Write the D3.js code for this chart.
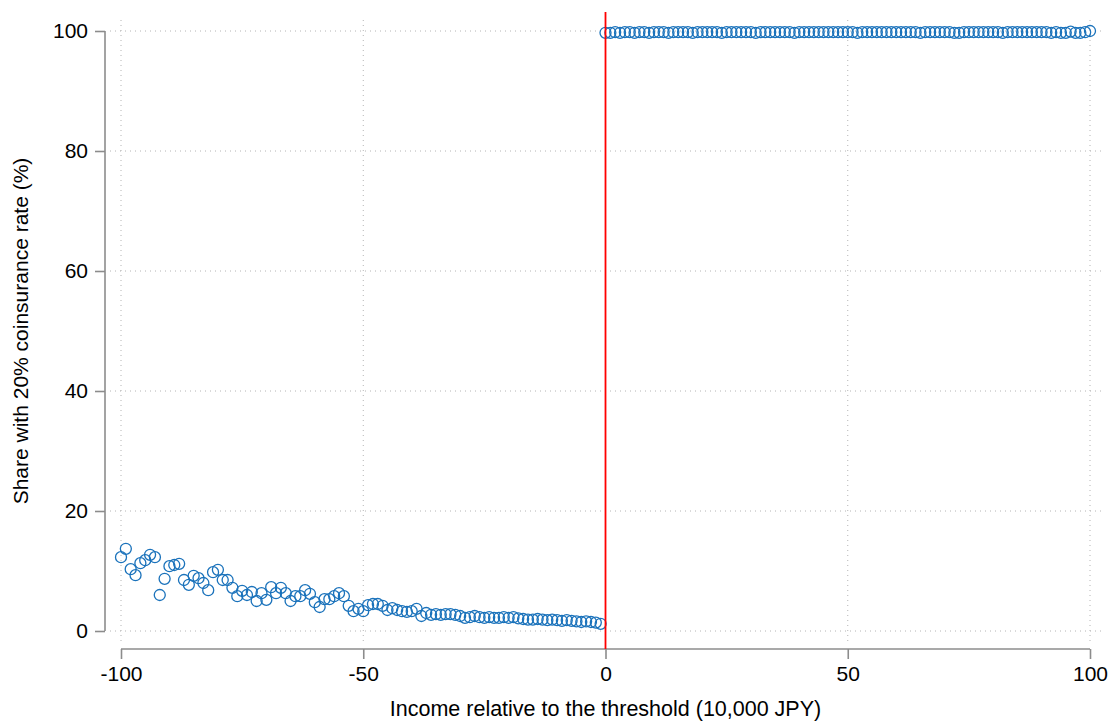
<!DOCTYPE html>
<html>
<head>
<meta charset="utf-8">
<script src="https://cdn.jsdelivr.net/npm/d3@7"></script>
<style>
  html, body { margin: 0; padding: 0; background: #fff; }
  svg { display: block; font-family: "Liberation Sans", Arial, Helvetica, sans-serif; }
</style>
</head>
<body>
<svg id="chart" width="1114" height="725"></svg>
<script>
// Bin positions (income relative to the threshold, 10,000 JPY)
const binsBelow = d3.range(-100, 0);      // -100 .. -1
const binsAbove = d3.range(0, 101);       // 0 .. 100

// Share with 20% coinsurance rate (%) for bins below the threshold
const shareBelow = [
  12.3, 13.7, 10.3, 9.3, 11.3, 11.8, 12.7, 12.3, 6.0, 8.7,
  10.8, 11.0, 11.2, 8.5, 7.7, 9.2, 8.8, 8.0, 6.8, 9.8,
  10.2, 8.5, 8.5, 7.2, 5.8, 6.7, 6.0, 6.5, 5.0, 6.3,
  5.2, 7.3, 6.3, 7.2, 6.3, 5.0, 5.8, 5.8, 6.8, 6.2,
  4.8, 4.0, 5.3, 5.3, 5.8, 6.3, 5.8, 4.2, 3.3, 3.7,
  3.3, 4.3, 4.5, 4.5, 4.2, 3.5, 3.8, 3.5, 3.3, 3.2,
  3.3, 3.7, 2.5, 3.0, 2.7, 2.8, 2.7, 2.8, 2.8, 2.7,
  2.5, 2.2, 2.3, 2.5, 2.3, 2.2, 2.3, 2.2, 2.2, 2.3,
  2.2, 2.3, 2.1, 2.0, 1.9, 1.9, 2.0, 1.9, 1.8, 1.9,
  1.8, 1.7, 1.8, 1.7, 1.6, 1.5, 1.6, 1.5, 1.4, 1.2
];

// Share with 20% coinsurance rate (%) for bins at or above the threshold
const shareAbove = [
  99.7, 99.7, 99.8, 99.7, 99.8, 99.8, 99.7, 99.8, 99.8, 99.7,
  99.8, 99.8, 99.8, 99.7, 99.8, 99.8, 99.8, 99.8, 99.7, 99.8,
  99.8, 99.8, 99.8, 99.8, 99.7, 99.8, 99.8, 99.8, 99.8, 99.8,
  99.8, 99.7, 99.8, 99.8, 99.8, 99.8, 99.8, 99.8, 99.8, 99.7,
  99.8, 99.8, 99.8, 99.8, 99.8, 99.8, 99.8, 99.8, 99.8, 99.8,
  99.8, 99.8, 99.7, 99.8, 99.8, 99.8, 99.8, 99.8, 99.8, 99.8,
  99.8, 99.8, 99.8, 99.8, 99.8, 99.7, 99.8, 99.8, 99.8, 99.8,
  99.8, 99.8, 99.7, 99.7, 99.8, 99.8, 99.8, 99.8, 99.8, 99.8,
  99.8, 99.8, 99.7, 99.8, 99.8, 99.8, 99.8, 99.8, 99.8, 99.8,
  99.8, 99.8, 99.7, 99.8, 99.7, 99.7, 99.9, 99.7, 99.7, 99.8,
  100.0
];

const xTicks = [-100, -50, 0, 50, 100];
const yTicks = [0, 20, 40, 60, 80, 100];
const threshold = 0;
const xTitle = "Income relative to the threshold (10,000 JPY)";
const yTitle = "Share with 20% coinsurance rate (%)";

const svg = d3.select("#chart");

const x = d3.scaleLinear().domain([-100, 100]).range([121, 1090]);
const y = d3.scaleLinear().domain([0, 100]).range([631, 31]);

// plot region (slightly larger than the data range)
const region = { left: 110, right: 1101, top: 20, bottom: 642 };
const axisColor = "#8c8c8c";
const gridColor = "#b4b4b4";
const markColor = "#1a72bb";
const fmt = d => String(d);   // plain hyphen-minus for negatives

// dotted grid
const grid = svg.append("g");
grid.selectAll("line.h").data(yTicks).join("line")
  .attr("x1", region.left).attr("x2", region.right)
  .attr("y1", d => y(d)).attr("y2", d => y(d))
  .attr("stroke", gridColor).attr("stroke-width", 1)
  .attr("stroke-dasharray", "1 4");
grid.selectAll("line.v").data(xTicks).join("line")
  .attr("y1", region.top).attr("y2", region.bottom)
  .attr("x1", d => x(d)).attr("x2", d => x(d))
  .attr("stroke", gridColor).attr("stroke-width", 1)
  .attr("stroke-dasharray", "1 4");

// y axis
const yAxis = svg.append("g")
  .attr("transform", `translate(105,0)`)
  .call(d3.axisLeft(y).tickValues(yTicks).tickSize(10).tickPadding(7).tickFormat(fmt));
yAxis.select(".domain").attr("stroke", axisColor).attr("stroke-width", 1.6)
  .attr("d", `M0,${y(100)}V${y(0)}`);
yAxis.selectAll(".tick line").attr("stroke", axisColor).attr("stroke-width", 1.6);
yAxis.selectAll(".tick text").attr("font-size", 21).attr("fill", "#000")
  .attr("font-family", "Liberation Sans, Arial, sans-serif");

// x axis
const xAxis = svg.append("g")
  .attr("transform", `translate(0,649)`)
  .call(d3.axisBottom(x).tickValues(xTicks).tickSize(10).tickPadding(7).tickFormat(fmt));
xAxis.select(".domain").attr("stroke", axisColor).attr("stroke-width", 1.6)
  .attr("d", `M${x(-100)},0H${x(100)}`);
xAxis.selectAll(".tick line").attr("stroke", axisColor).attr("stroke-width", 1.6);
xAxis.selectAll(".tick text").attr("font-size", 21).attr("fill", "#000")
  .attr("font-family", "Liberation Sans, Arial, sans-serif");

// axis titles
svg.append("text")
  .attr("x", x(0)).attr("y", 716)
  .attr("text-anchor", "middle").attr("font-size", 21.5).attr("fill", "#000")
  .text(xTitle);
svg.append("text")
  .attr("transform", `translate(28,${y(50)}) rotate(-90)`)
  .attr("text-anchor", "middle").attr("font-size", 21).attr("fill", "#000")
  .text(yTitle);

// markers
const below = binsBelow.map((b, i) => ({ b, v: shareBelow[i] }));
const above = binsAbove.map((b, i) => ({ b, v: shareAbove[i] }));
const pts = svg.append("g");
pts.selectAll("circle").data(below.concat(above)).join("circle")
  .attr("cx", d => x(d.b)).attr("cy", d => y(d.v)).attr("r", 5.5)
  .attr("fill", "none").attr("stroke", markColor).attr("stroke-width", 1.3);

// threshold line
svg.append("line")
  .attr("x1", x(threshold)).attr("x2", x(threshold))
  .attr("y1", 12).attr("y2", 649)
  .attr("stroke", "#ff0000").attr("stroke-width", 1.8);
</script>
</body>
</html>
